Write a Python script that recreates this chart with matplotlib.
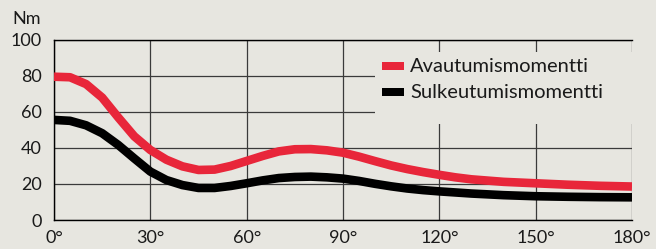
import matplotlib
matplotlib.use("Agg")
import matplotlib.pyplot as plt
from matplotlib.patches import Rectangle

BG = "#e7e6e0"
RED = "#e8263a"

angles = [0, 5, 10, 15, 20, 25, 30, 35, 40, 45, 50, 55, 60, 65, 70, 75, 80, 85, 90,
          95, 100, 105, 110, 115, 120, 125, 130, 140, 150, 160, 170, 180]
opening = [79.6, 79.3, 75.5, 68.0, 57.0, 46.5, 38.9, 33.5, 29.8, 27.8, 28.0, 30.0, 32.8,
           35.6, 38.1, 39.3, 39.4, 38.7, 37.4, 35.2, 32.7, 30.3, 28.3, 26.6, 25.1,
           23.7, 22.6, 21.2, 20.4, 19.6, 19.0, 18.6]
closing = [55.6, 55.1, 52.6, 48.2, 41.7, 34.2, 26.9, 22.2, 19.4, 17.8, 17.8, 18.9, 20.4,
           22.0, 23.3, 23.9, 24.1, 23.7, 23.0, 21.7, 20.1, 18.7, 17.5, 16.6, 15.9,
           15.3, 14.7, 13.8, 13.2, 12.9, 12.7, 12.6]
series_names = ["Avautumismomentti", "Sulkeutumismomentti"]
x_ticks = [0, 30, 60, 90, 120, 150, 180]
y_ticks = [0, 20, 40, 60, 80, 100]

plt.rcParams["font.family"] = ["Lato", "DejaVu Sans"]

fig = plt.figure(figsize=(6.56, 2.49), dpi=100, facecolor=BG)
ax = fig.add_axes([54 / 656, 29 / 249, 578 / 656, 180 / 249])
ax.set_facecolor(BG)

for vals, col in zip([opening, closing], [RED, "black"]):
    ax.plot(angles, vals, color=col, linewidth=6.2, solid_capstyle="butt",
            solid_joinstyle="round", zorder=3)

ax.set_xlim(0, 180)
ax.set_ylim(0, 100)
ax.set_xticks(x_ticks)
ax.set_yticks(y_ticks)
ax.set_xticklabels([f"{t}\u00b0" for t in x_ticks])
ax.tick_params(length=0, labelsize=13, colors="#1a1a1a", pad=7)
ax.tick_params(axis="y", pad=9)
ax.grid(True, color="#3a3a3a", linewidth=0.9)
for side in ["left", "top", "bottom"]:
    ax.spines[side].set_color("black")
    ax.spines[side].set_linewidth(1.0)
ax.spines["right"].set_visible(False)

fig.text(12 / 656, 1 - 19 / 249, "Nm", fontsize=13, color="#1a1a1a", va="center", ha="left")

# legend box covering the grid
fig.patches.append(Rectangle((375 / 656, 1 - 124 / 249), 1 - 375 / 656, 72 / 249,
                             transform=fig.transFigure, facecolor=BG, edgecolor="none", zorder=2))
for i, (name, col) in enumerate(zip(series_names, [RED, "black"])):
    yc = 66 + 26 * i
    fig.patches.append(Rectangle((382 / 656, 1 - (yc + 4) / 249), 22 / 656, 8 / 249,
                                 transform=fig.transFigure, facecolor=col, edgecolor="none", zorder=3))
    fig.text(410 / 656, 1 - yc / 249, name, fontsize=14.5, color="#1a1a1a",
             va="center", ha="left", zorder=4)

fig.savefig("out.png", dpi=100, facecolor=BG)
